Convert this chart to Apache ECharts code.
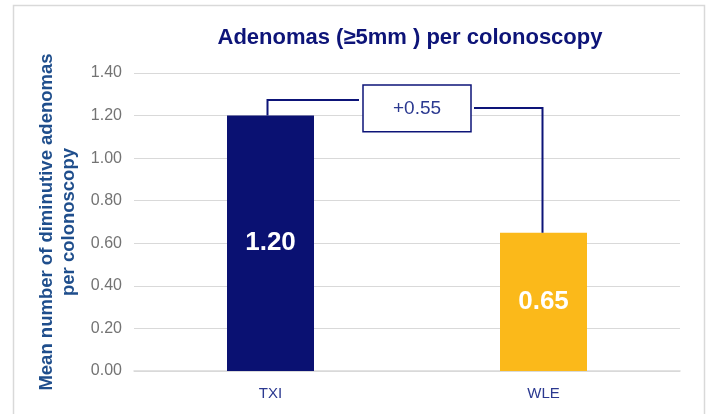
<!DOCTYPE html>
<html>
<head>
<meta charset="utf-8">
<script src="https://cdn.jsdelivr.net/npm/echarts@6/dist/echarts.min.js"></script>
<style>
  html, body { margin: 0; padding: 0; background: #fff; }
  #chart { width: 706px; height: 414px; }
</style>
</head>
<body>
<div id="chart"></div>
<script>
const FONT = 'Liberation Sans, Arial, sans-serif'

const categories = ['TXI', 'WLE']
const values = [1.20, 0.65]
const barColors = ['#0a1172', '#fbb91a']
const diffLabel = '+0.55'
// bracket heights (value units) and label box range
const bracketLeftY = 1.273
const bracketRightY = 1.236
const boxTop = 1.344
const boxBottom = 1.124

const chart = echarts.init(document.getElementById('chart'))

chart.setOption({
  backgroundColor: '#fff',
  animation: false,
  graphic: [
    {
      type: 'rect',
      left: 11, top: 3,
      shape: { width: 691, height: 420 },
      style: { fill: 'none', stroke: '#d9d9d9', lineWidth: 1.5 },
    },
  ],
  title: {
    text: 'Adenomas (≥5mm ) per colonoscopy',
    left: 405, top: 22, textAlign: 'center',
    textStyle: { color: '#0d1478', fontSize: 22, fontWeight: 'bold', fontFamily: FONT },
  },
  grid: { left: 134, right: 26, top: 73, bottom: 43 },
  xAxis: {
    type: 'category',
    data: categories,
    axisLine: { lineStyle: { color: '#d9d9d9', width: 1.5 } },
    axisTick: { show: false },
    axisLabel: { color: '#2b3990', fontSize: 15, margin: 15, fontFamily: FONT },
  },
  yAxis: {
    type: 'value',
    min: 0, max: 1.4, interval: 0.2,
    name: 'Mean number of diminutive adenomas\nper colonoscopy',
    nameLocation: 'middle',
    nameGap: 52,
    nameTextStyle: { color: '#1f4e8c', fontSize: 18.5, fontWeight: 'bold', fontFamily: FONT, lineHeight: 22 },
    axisLine: { show: false },
    axisTick: { show: false },
    axisLabel: { color: '#737373', fontSize: 16, margin: 12, fontFamily: FONT, formatter: (v) => v.toFixed(2) },
    splitLine: { lineStyle: { color: '#d9d9d9', width: 1 } },
  },
  series: [
    {
      type: 'bar',
      barWidth: 87,
      data: values.map((v, i) => ({ value: v, itemStyle: { color: barColors[i] } })),
      label: {
        show: true,
        position: 'inside',
        color: '#fff',
        fontSize: 26,
        fontWeight: 'bold',
        fontFamily: FONT,
        formatter: (p) => p.value.toFixed(2),
      },
      z: 2,
    },
    {
      type: 'custom',
      z: 5,
      silent: true,
      data: [0],
      renderItem: function (params, api) {
        const a = api.coord([0, values[0]])
        const b = api.coord([1, values[1]])
        const yl = api.coord([0, bracketLeftY])[1]
        const yr = api.coord([0, bracketRightY])[1]
        const bt = api.coord([0, boxTop])[1]
        const bb = api.coord([0, boxBottom])[1]
        const cx = (a[0] + b[0]) / 2 + 10
        const bw = 108
        const line = { stroke: '#0d1478', lineWidth: 2, fill: 'none' }
        return {
          type: 'group',
          children: [
            { type: 'polyline', shape: { points: [[a[0] - 3, a[1]], [a[0] - 3, yl], [cx - bw / 2 - 4, yl]] }, style: line },
            { type: 'polyline', shape: { points: [[cx + bw / 2 + 3, yr], [b[0] - 1, yr], [b[0] - 1, b[1]]] }, style: line },
            {
              type: 'rect',
              shape: { x: cx - bw / 2, y: bt, width: bw, height: bb - bt },
              style: { fill: '#fff', stroke: '#0d1478', lineWidth: 1.5 },
            },
            {
              type: 'text',
              x: cx, y: (bt + bb) / 2,
              style: {
                text: diffLabel, fill: '#2b3990', fontSize: 19, fontFamily: FONT,
                align: 'center', verticalAlign: 'middle',
              },
            },
          ],
        }
      },
    },
  ],
})
</script>
</body>
</html>
